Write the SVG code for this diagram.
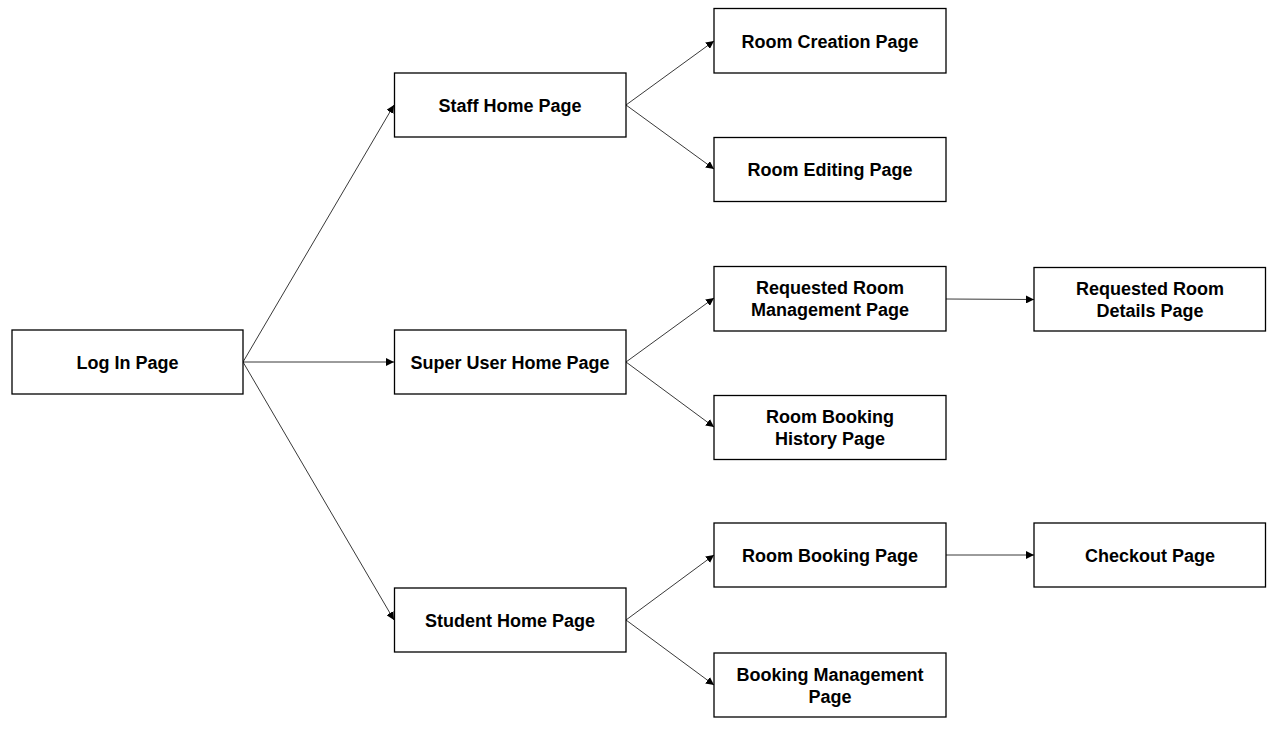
<svg xmlns="http://www.w3.org/2000/svg" width="1280" height="729" viewBox="0 0 1280 729">
<style>
.box{fill:#fff;stroke:#000;stroke-width:1.3}
.lbl{font-family:"Liberation Sans",Arial,sans-serif;font-weight:bold;font-size:18px;fill:#000;text-anchor:middle;dominant-baseline:central}
.edge{stroke:#222;stroke-width:0.9;fill:none;marker-end:url(#ah)}
</style>
<defs>
<marker id="ah" viewBox="0 0 10 10" refX="10" refY="5" markerWidth="8" markerHeight="8" markerUnits="userSpaceOnUse" orient="auto">
<path d="M0,0 L10,5 L0,10 z" fill="#000"/>
</marker>
</defs>
<rect width="1280" height="729" fill="#fff"/>
<g id="connectors">
<line class="edge" x1="243" y1="362" x2="394" y2="105"/>
<line class="edge" x1="243" y1="362" x2="394" y2="362"/>
<line class="edge" x1="243" y1="362" x2="394" y2="620"/>
<line class="edge" x1="626" y1="105" x2="714" y2="41"/>
<line class="edge" x1="626" y1="105" x2="714" y2="169"/>
<line class="edge" x1="626" y1="362" x2="714" y2="298"/>
<line class="edge" x1="626" y1="362" x2="714" y2="427"/>
<line class="edge" x1="626" y1="620" x2="714" y2="555"/>
<line class="edge" x1="626" y1="620" x2="714" y2="685"/>
<line class="edge" x1="946" y1="299" x2="1034" y2="299.5"/>
<line class="edge" x1="946" y1="555" x2="1034" y2="555"/>
</g>
<g id="login"><rect class="box" x="12" y="330" width="231" height="64"/><text class="lbl" x="127.5" y="363">Log In Page</text></g>
<g id="staff"><rect class="box" x="394.5" y="73" width="231.5" height="64"/><text class="lbl" x="510" y="106">Staff Home Page</text></g>
<g id="super"><rect class="box" x="394.5" y="330" width="231.5" height="64"/><text class="lbl" x="510" y="363">Super User Home Page</text></g>
<g id="student"><rect class="box" x="394.5" y="588" width="231.5" height="64"/><text class="lbl" x="510" y="621">Student Home Page</text></g>
<g id="roomcreation"><rect class="box" x="714" y="8.5" width="232" height="64.5"/><text class="lbl" x="830" y="42">Room Creation Page</text></g>
<g id="roomediting"><rect class="box" x="714" y="137.5" width="232" height="64"/><text class="lbl" x="830" y="170">Room Editing Page</text></g>
<g id="reqmgmt"><rect class="box" x="714" y="266.5" width="232" height="64.5"/><text class="lbl" x="830" y="288">Requested Room</text><text class="lbl" x="830" y="310">Management Page</text></g>
<g id="history"><rect class="box" x="714" y="395.5" width="232" height="64"/><text class="lbl" x="830" y="417">Room Booking</text><text class="lbl" x="830" y="439">History Page</text></g>
<g id="booking"><rect class="box" x="714" y="523" width="232" height="64"/><text class="lbl" x="830" y="556">Room Booking Page</text></g>
<g id="bookingmgmt"><rect class="box" x="714" y="653" width="232" height="64"/><text class="lbl" x="830" y="675">Booking Management</text><text class="lbl" x="830" y="697">Page</text></g>
<g id="reqdetails"><rect class="box" x="1034" y="267.5" width="231.5" height="63.5"/><text class="lbl" x="1150" y="289">Requested Room</text><text class="lbl" x="1150" y="311">Details Page</text></g>
<g id="checkout"><rect class="box" x="1034" y="523" width="231.5" height="64"/><text class="lbl" x="1150" y="556">Checkout Page</text></g>
</svg>
